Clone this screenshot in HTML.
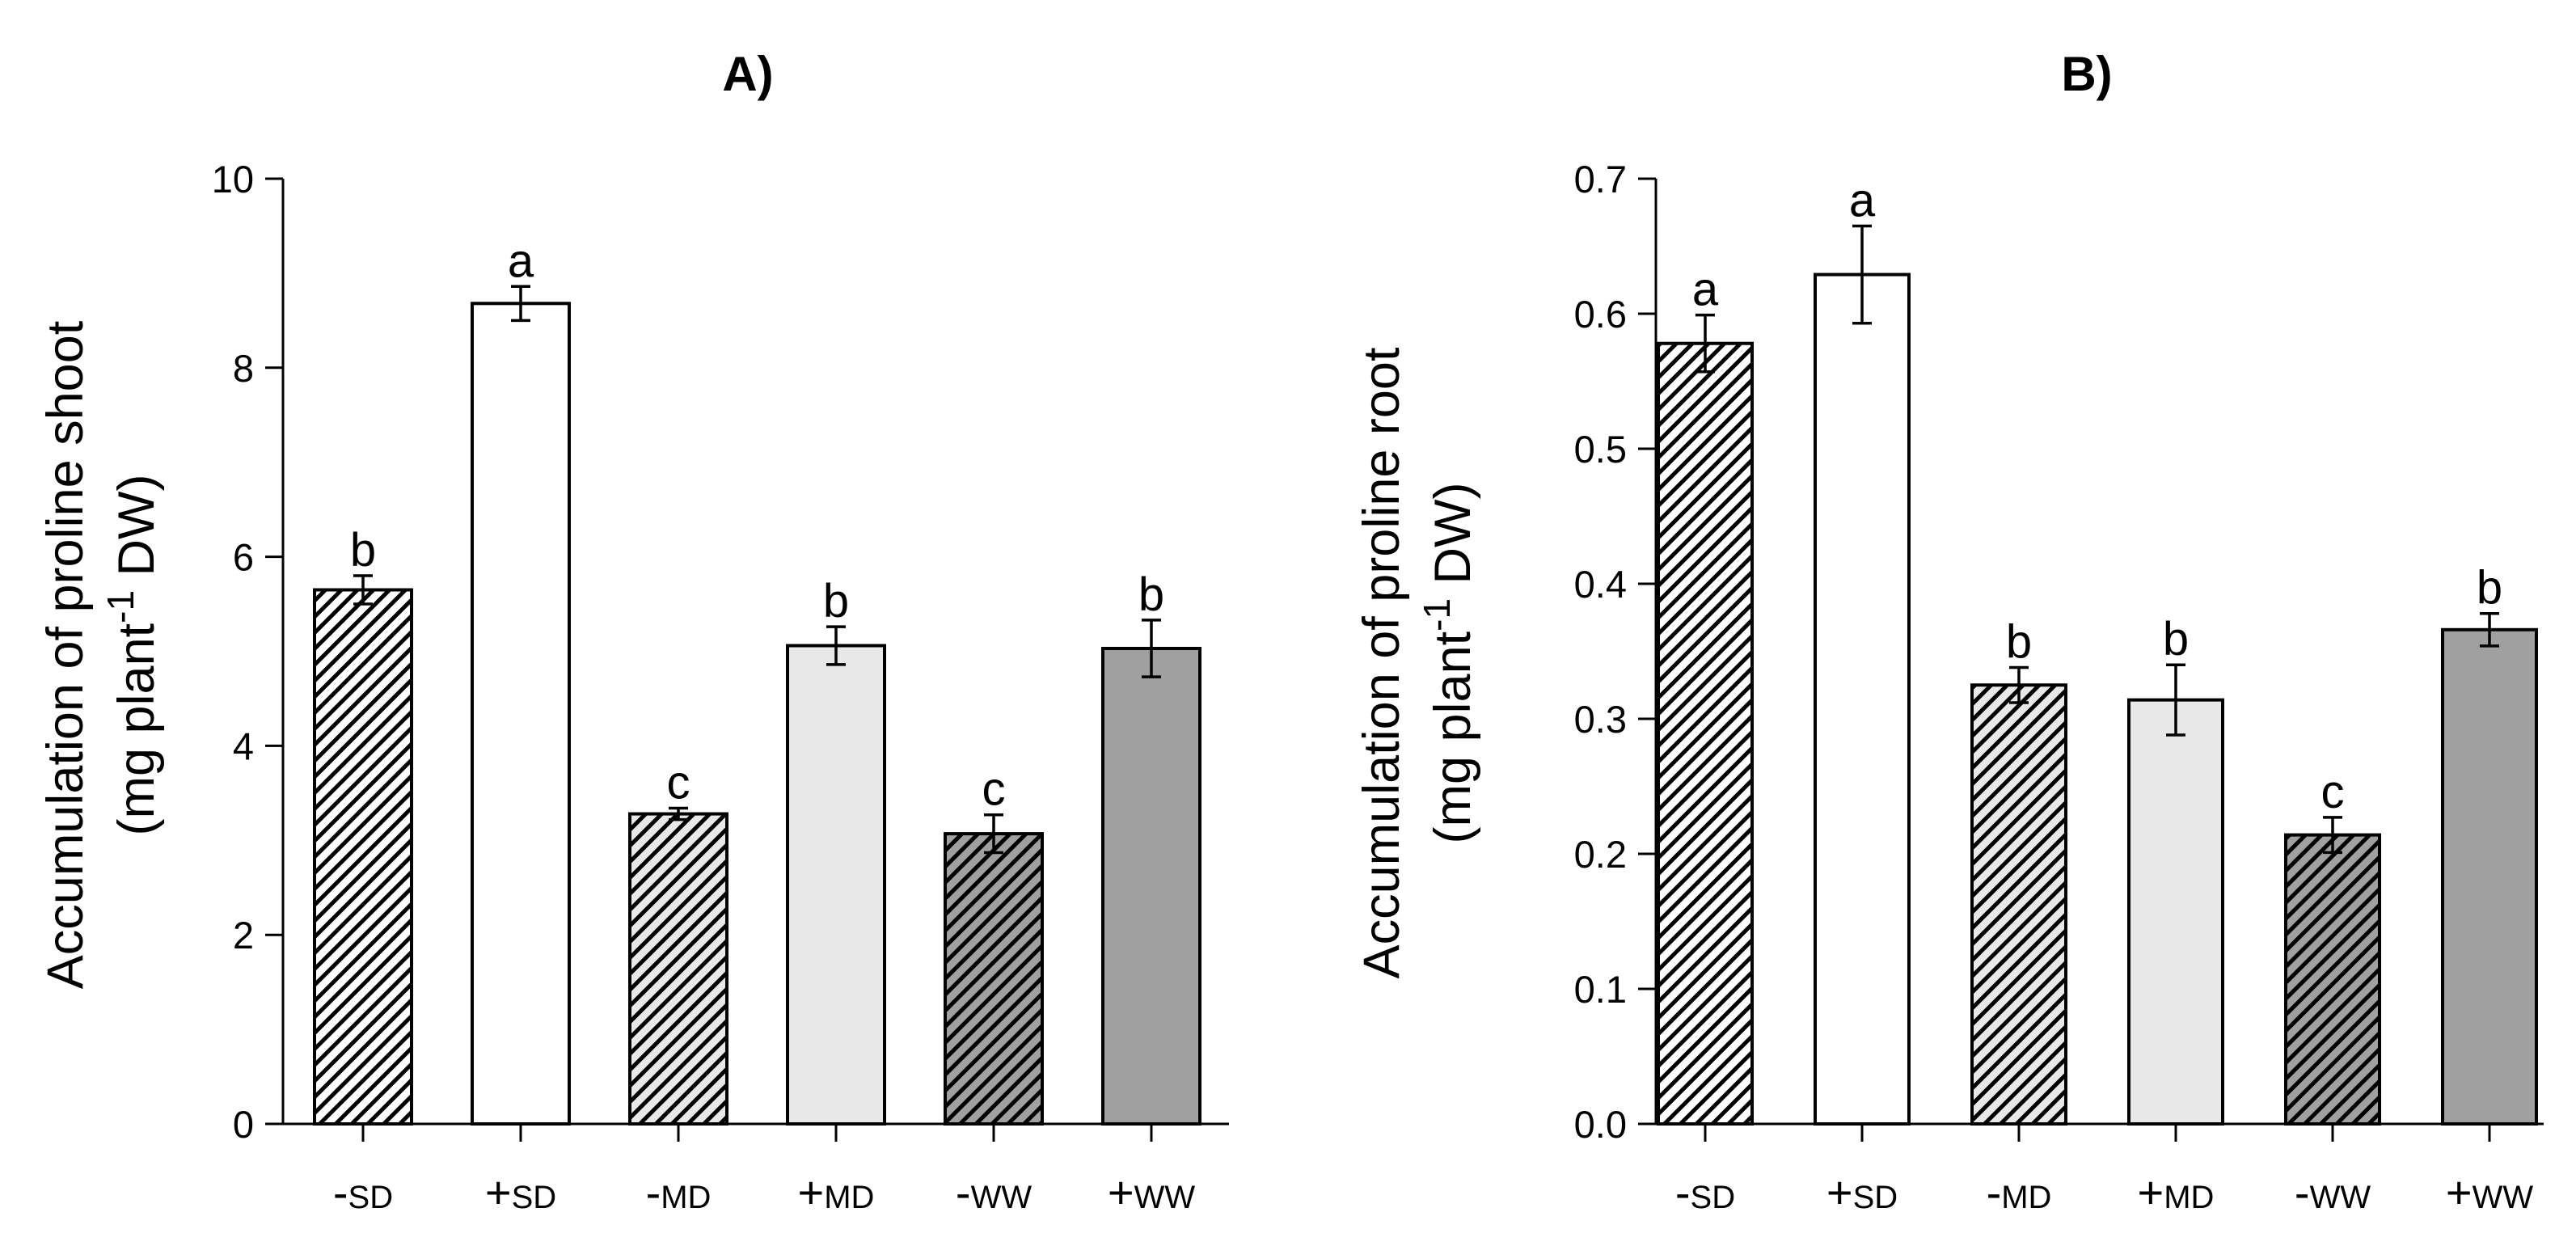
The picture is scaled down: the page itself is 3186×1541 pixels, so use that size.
<!DOCTYPE html>
<html><head><meta charset="utf-8"><style>
html,body{margin:0;padding:0;background:#fff}
svg{display:block}
text{font-family:"Liberation Sans",Arial,sans-serif;fill:#000}
</style></head><body>
<svg id="chart" width="3186" height="1541" viewBox="0 0 3186 1541" xmlns="http://www.w3.org/2000/svg">
<defs>
<pattern id="hw" patternUnits="userSpaceOnUse" width="14" height="14" patternTransform="rotate(45)"><rect width="14" height="14" fill="#fff"/><rect width="5" height="14" fill="#000"/></pattern>
<pattern id="hl" patternUnits="userSpaceOnUse" width="14" height="14" patternTransform="rotate(45)"><rect width="14" height="14" fill="#e8e8e8"/><rect width="5" height="14" fill="#000"/></pattern>
<pattern id="hd" patternUnits="userSpaceOnUse" width="14" height="14" patternTransform="rotate(45)"><rect width="14" height="14" fill="#a0a0a0"/><rect width="5" height="14" fill="#000"/></pattern>
</defs>
<g id="gA"></g>
<g id="gB"></g>
</svg>
<script>
const categories = ["-SD","+SD","-MD","+MD","-WW","+WW"];
const shootValues = [5.65, 8.68, 3.28, 5.06, 3.07, 5.03];
const shootErrors = [0.15, 0.18, 0.06, 0.20, 0.20, 0.30];
const shootLetters = ["b","a","c","b","c","b"];
const shootTicks = [0,2,4,6,8,10];
const shootTickLabels = ["0","2","4","6","8","10"];
const rootValues = [0.578, 0.629, 0.325, 0.314, 0.214, 0.366];
const rootErrors = [0.021, 0.036, 0.013, 0.026, 0.013, 0.012];
const rootLetters = ["a","a","b","b","c","b"];
const rootTicks = [0,0.1,0.2,0.3,0.4,0.5,0.6,0.7];
const rootTickLabels = ["0.0","0.1","0.2","0.3","0.4","0.5","0.6","0.7"];
const fills = ["url(#hw)","#fff","url(#hl)","#e8e8e8","url(#hd)","#a0a0a0"];
const NS="http://www.w3.org/2000/svg";
function mk(parent,tag,attrs,text){const e=document.createElementNS(NS,tag);for(const k in attrs)e.setAttribute(k,attrs[k]);if(text!==undefined)e.textContent=text;parent.appendChild(e);return e;}
function panel(g,cfg){
  const y=v=>cfg.y0-(v/cfg.max)*(cfg.y0-cfg.y1);
  const x=i=>cfg.c0+i*cfg.step;
  const t=mk(g,"text",{x:cfg.titleX,y:112,"font-size":60,"font-weight":"bold","text-anchor":"middle"},cfg.title);
  
  
  const ya=mk(g,"line",{x1:cfg.ax,y1:cfg.y1,x2:cfg.ax,y2:cfg.y0,stroke:"#000","stroke-width":3});
  
  
  const xa=mk(g,"line",{x1:cfg.ax-22,y1:cfg.y0,x2:cfg.xEnd,y2:cfg.y0,stroke:"#000","stroke-width":3});
  
  
  cfg.ticks.forEach((v,i)=>{
    mk(g,"line",{x1:cfg.ax-22,y1:y(v),x2:cfg.ax,y2:y(v),stroke:"#000","stroke-width":3});
    const tl=mk(g,"text",{x:cfg.ax-36,y:y(v)+17,"font-size":47,"text-anchor":"end"},cfg.tickLabels[i]);
    
    
  });
  const yt=mk(g,"text",{transform:`translate(${cfg.titleYx},${cfg.titleYy}) rotate(-90)`,"font-size":63,"text-anchor":"middle"});
  
  
  mk(yt,"tspan",{x:0,y:0},cfg.yTitle1);
  mk(yt,"tspan",{x:0,y:88},"(mg plant");
  mk(yt,"tspan",{dy:-25,"font-size":46},"-1");
  mk(yt,"tspan",{dy:25}," DW)");
  cfg.values.forEach((v,i)=>{
    const cx=x(i),w=cfg.bw;
    const b=mk(g,"rect",{x:cx-w/2,y:y(v),width:w,height:cfg.y0-y(v),fill:fills[i],stroke:"#000","stroke-width":4});
    
    
    const e=cfg.errors[i],top=y(v+e),bot=y(v-e);
    const eb=mk(g,"path",{d:`M${cx},${top}V${bot}M${cx-12},${top}H${cx+12}M${cx-12},${bot}H${cx+12}`,stroke:"#000","stroke-width":3.5,fill:"none"});
    
    
    const lt=mk(g,"text",{x:cx,y:top-12,"font-size":58,"text-anchor":"middle"},cfg.letters[i]);
    
    
    mk(g,"line",{x1:cx,y1:cfg.y0,x2:cx,y2:cfg.y0+22,stroke:"#000","stroke-width":3});
    const c=categories[i];
    const xl=mk(g,"text",{x:cx,y:1494,"text-anchor":"middle"});
    
    
    mk(xl,"tspan",{"font-size":56},c[0]);
    mk(xl,"tspan",{"font-size":40},c.slice(1));
  });
}
panel(document.getElementById("gA"),{title:"A)",titleX:925,ax:350,xEnd:1520,y0:1390,y1:221,max:10,c0:449,step:195,bw:120,
  ticks:shootTicks,tickLabels:shootTickLabels,values:shootValues,errors:shootErrors,letters:shootLetters,
  titleYx:102,titleYy:810,yTitle1:"Accumulation of proline shoot"});
panel(document.getElementById("gB"),{title:"B)",titleX:2581,ax:2048,xEnd:3146,y0:1390,y1:221,max:0.7,c0:2109,step:194,bw:116,
  ticks:rootTicks,tickLabels:rootTickLabels,values:rootValues,errors:rootErrors,letters:rootLetters,
  titleYx:1730,titleYy:820,yTitle1:"Accumulation  of proline root"});
</script>
</body></html>
